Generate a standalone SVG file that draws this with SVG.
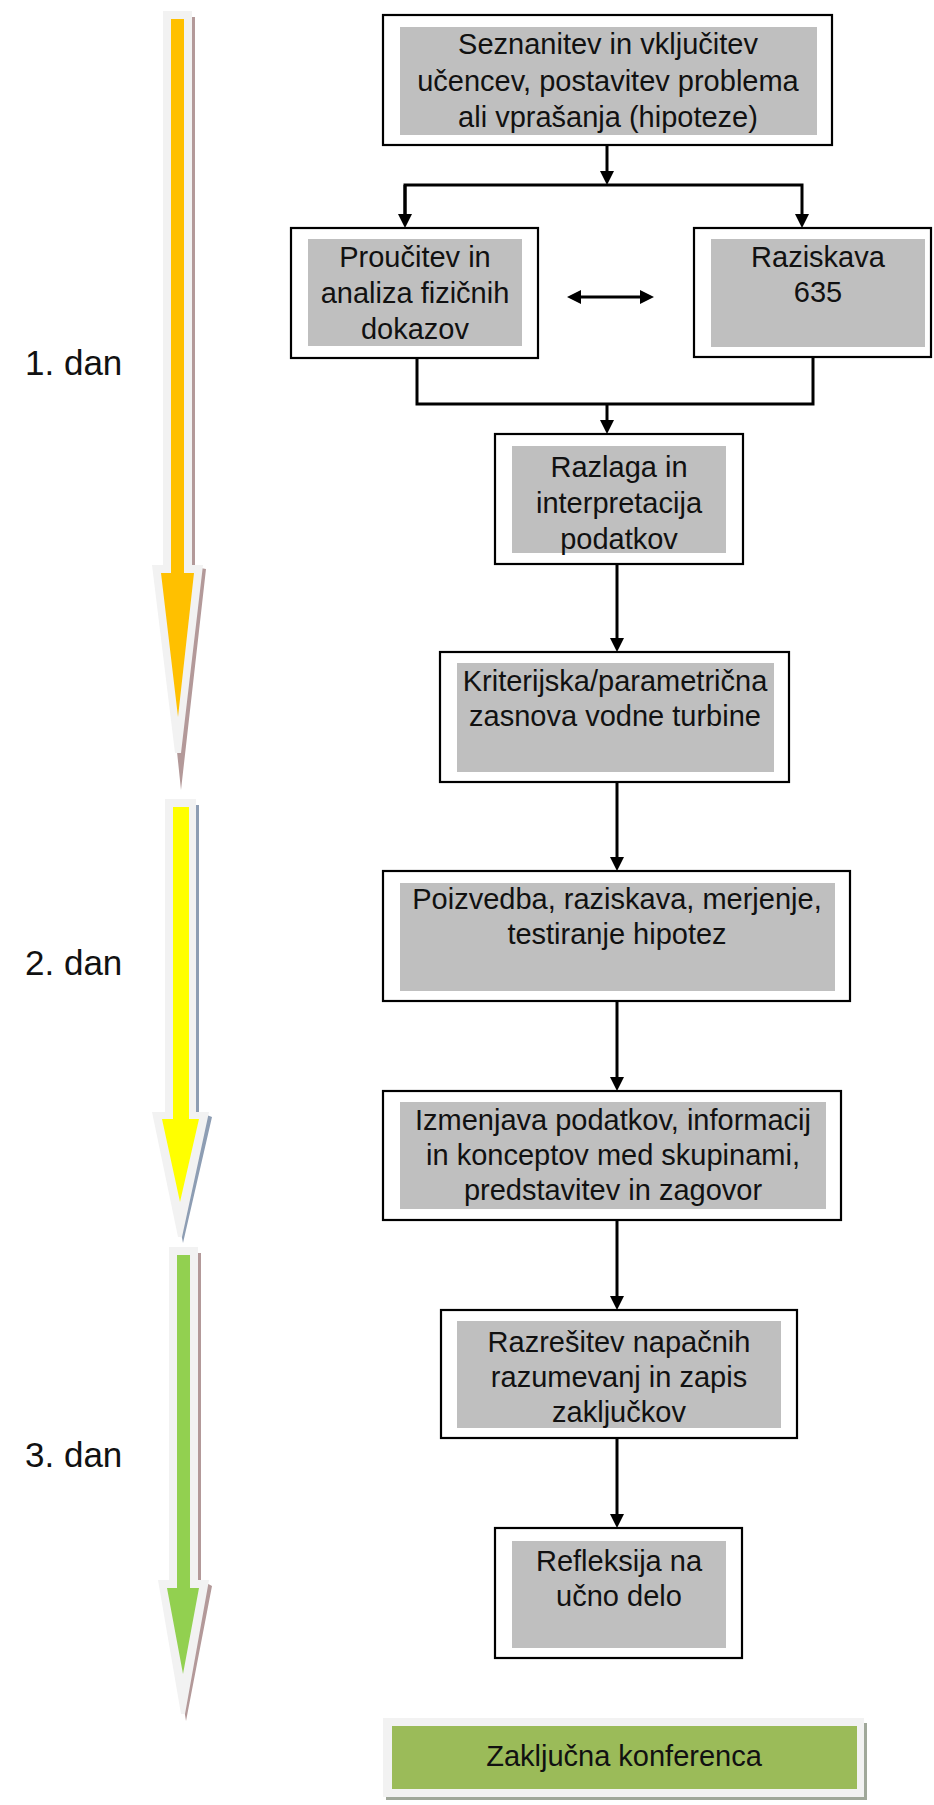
<svg xmlns="http://www.w3.org/2000/svg" width="934" height="1805" viewBox="0 0 934 1805">
<style>
.box{fill:#fff;stroke:#000;stroke-width:2.2}
.inner{fill:#bfbfbf}
.t{font-family:"Liberation Sans",Arial,sans-serif;font-size:29px;fill:#111;text-anchor:middle}
.lbl{font-family:"Liberation Sans",Arial,sans-serif;font-size:35px;fill:#111}
.conn{fill:none;stroke:#000;stroke-width:3}
.halo{fill:#f2f2f2}
</style>
<defs>
<marker id="ah" markerWidth="14" markerHeight="14" refX="4" refY="7" orient="auto-start-reverse" markerUnits="userSpaceOnUse">
<path d="M0,0 L14,7 L0,14 Z" fill="#000"/>
</marker>
</defs>
<rect width="934" height="1805" fill="#fff"/>

<g id="day1-arrow">
<polygon points="167,17 195,17 195,567 206,569 181,790 158,569 167,567" fill="#b39999"/>
<polygon class="halo" points="163,11 192,11 192,565 203,565 181,753 175,753 152,565 163,565"/>
<polygon points="171,19 184,19 184,573 194,573 178,717 161,573 171,573" fill="#ffc000"/>
</g>
<g id="day2-arrow">
<polygon points="170,805 199,805 199,1112 212,1117 183,1243 158,1117 170,1112" fill="#8d9db3"/>
<polygon class="halo" points="165,799 196,799 196,1112 209,1112 182,1237 178,1237 152,1112 165,1112"/>
<polygon points="173,807 189,807 189,1119 199,1119 180,1202 162,1119 173,1119" fill="#ffff00"/>
</g>
<g id="day3-arrow">
<polygon points="172,1253 201,1253 201,1580 212,1586 186,1721 164,1586 172,1580" fill="#b39999"/>
<polygon class="halo" points="169,1247 198,1247 198,1580 209,1580 185,1714 181,1714 158,1580 169,1580"/>
<polygon points="177,1255 190,1255 190,1588 199,1588 183,1674 167,1588 177,1588" fill="#92d050"/>
</g>

<g id="labels">
<text class="lbl" x="25" y="375">1. dan</text>
<text class="lbl" x="25" y="975">2. dan</text>
<text class="lbl" x="25" y="1467">3. dan</text>
</g>

<g id="connectors">
<path class="conn" d="M607,145 V175" marker-end="url(#ah)"/>
<path class="conn" d="M405,218 V185 H802 V218" marker-end="url(#ah)"/>
<path class="conn" d="M405,185 V218" marker-end="url(#ah)"/>
<path class="conn" d="M577,297 H644" marker-start="url(#ah)" marker-end="url(#ah)"/>
<path class="conn" d="M417,358 V404 H813 V357"/>
<path class="conn" d="M607,404 V424" marker-end="url(#ah)"/>
<path class="conn" d="M617,564 V642" marker-end="url(#ah)"/>
<path class="conn" d="M617,782 V861" marker-end="url(#ah)"/>
<path class="conn" d="M617,1001 V1081" marker-end="url(#ah)"/>
<path class="conn" d="M617,1220 V1300" marker-end="url(#ah)"/>
<path class="conn" d="M617,1438 V1518" marker-end="url(#ah)"/>
</g>

<g id="n1">
<rect class="box" x="383" y="15" width="449" height="130"/>
<rect class="inner" x="400" y="27" width="417" height="108"/>
<text class="t" x="608" y="54">Seznanitev in vključitev</text>
<text class="t" x="608" y="91">učencev, postavitev problema</text>
<text class="t" x="608" y="127">ali vprašanja (hipoteze)</text>
</g>
<g id="n2">
<rect class="box" x="291" y="228" width="247" height="130"/>
<rect class="inner" x="308" y="239" width="214" height="107"/>
<text class="t" x="415" y="267">Proučitev in</text>
<text class="t" x="415" y="303">analiza fizičnih</text>
<text class="t" x="415" y="339">dokazov</text>
</g>
<g id="n3">
<rect class="box" x="694" y="228" width="237" height="129"/>
<rect class="inner" x="711" y="239" width="214" height="108"/>
<text class="t" x="818" y="267">Raziskava</text>
<text class="t" x="818" y="302">635</text>
</g>
<g id="n4">
<rect class="box" x="495" y="434" width="248" height="130"/>
<rect class="inner" x="512" y="446" width="214" height="107"/>
<text class="t" x="619" y="477">Razlaga in</text>
<text class="t" x="619" y="513">interpretacija</text>
<text class="t" x="619" y="549">podatkov</text>
</g>
<g id="n5">
<rect class="box" x="440" y="652" width="349" height="130"/>
<rect class="inner" x="457" y="663" width="317" height="109"/>
<text class="t" x="615" y="691">Kriterijska/parametrična</text>
<text class="t" x="615" y="726">zasnova vodne turbine</text>
</g>
<g id="n6">
<rect class="box" x="383" y="871" width="467" height="130"/>
<rect class="inner" x="400" y="883" width="435" height="108"/>
<text class="t" x="617" y="909">Poizvedba, raziskava, merjenje,</text>
<text class="t" x="617" y="944">testiranje hipotez</text>
</g>
<g id="n7">
<rect class="box" x="383" y="1091" width="458" height="129"/>
<rect class="inner" x="400" y="1102" width="426" height="107"/>
<text class="t" x="613" y="1130">Izmenjava podatkov, informacij</text>
<text class="t" x="613" y="1165">in konceptov med skupinami,</text>
<text class="t" x="613" y="1200">predstavitev in zagovor</text>
</g>
<g id="n8">
<rect class="box" x="441" y="1310" width="356" height="128"/>
<rect class="inner" x="457" y="1321" width="324" height="107"/>
<text class="t" x="619" y="1352">Razrešitev napačnih</text>
<text class="t" x="619" y="1387">razumevanj in zapis</text>
<text class="t" x="619" y="1422">zaključkov</text>
</g>
<g id="n9">
<rect class="box" x="495" y="1528" width="247" height="130"/>
<rect class="inner" x="512" y="1541" width="214" height="107"/>
<text class="t" x="619" y="1571">Refleksija na</text>
<text class="t" x="619" y="1606">učno delo</text>
</g>
<g id="n10">
<rect x="386" y="1723" width="481" height="77" fill="#a0a89a"/>
<rect class="halo" x="383" y="1718" width="481" height="79"/>
<rect x="392" y="1726" width="465" height="63" fill="#9bbb59"/>
<text class="t" x="624" y="1766">Zaključna konferenca</text>
</g>
</svg>
